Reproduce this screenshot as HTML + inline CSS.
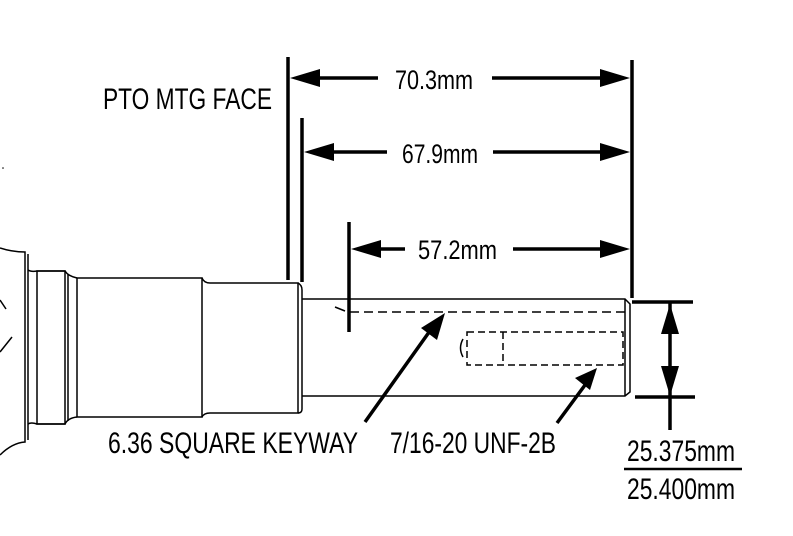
<!DOCTYPE html>
<html><head><meta charset="utf-8"><style>
html,body{margin:0;padding:0;background:#fff;}
svg{display:block;}
text{font-family:"Liberation Sans",sans-serif;fill:#000;}
</style></head><body>
<svg width="793" height="536" viewBox="0 0 793 536" xmlns="http://www.w3.org/2000/svg">
<g fill="none" stroke="#000" stroke-width="1.5">
 <path d="M0,248 Q12,252 25,252 L25,442 Q12,443 0,455"/>
 <path d="M28,254 L28,440"/>
 <path d="M0,300 L6,309 M0,352 L12,337"/>
 <path d="M28,270 Q31,272 37,271 L65,271 Q68,276 77,278"/>
 <path d="M28,424 Q31,422 37,424 L65,424 Q68,418 77,417"/>
 <rect x="37" y="271" width="28" height="153"/>
 <path d="M68,274 L68,421"/>
 <rect x="77" y="278" width="125" height="139"/>
 <path d="M202,278 Q204,283 210,283 L298,283 L298,413 L210,413 Q204,413 202,417"/>
 <path d="M298,283 Q302,285 302,290 L302,409 Q302,413 298,413"/>
 <path d="M302,299 L625,299 L630,304 L630,392 L625,396 L302,396"/>
 <path d="M625,299 L625,396"/>
 <path d="M335,307 L345,311"/>
 <path d="M350,312 L625,312" stroke-dasharray="9,5"/>
 <path d="M467,332 L623,332 L623,365 L467,365 Z" stroke-dasharray="7,4"/>
 <path d="M503,332 L503,365" stroke-dasharray="7,4"/>
 <path d="M463,339 Q458,348 463,357"/>
</g>
<g stroke="#000" stroke-width="3.5" fill="none">
 <path d="M288,57 L288,280"/>
 <path d="M302,118 L302,282"/>
 <path d="M349,222 L349,332"/>
 <path d="M632,60 L632,298"/>
 <path d="M300,78 L378,78 M492,78 L620,78"/>
 <path d="M314,152 L387,152 M493,152 L620,152"/>
 <path d="M360,249 L405,249 M513,249 L620,249"/>
 <path d="M632,302 L693,302 M635,397 L695,397 M670,303 L670,430"/>
 <path d="M365,422 L432,328 M557,423 L588,381"/>
 <path d="M624,469 L742,469" stroke-width="2.5"/>
</g>
<g fill="#000">
 <polygon points="290,78 320,69 320,87"/>
 <polygon points="630,78 600,69 600,87"/>
 <polygon points="304,152 334,143 334,161"/>
 <polygon points="630,152 600,143 600,161"/>
 <polygon points="351,249 381,240 381,258"/>
 <polygon points="630,249 600,240 600,258"/>
 <polygon points="670,304 661,334 679,334"/>
 <polygon points="670,396 661,366 679,366"/>
 <polygon points="445,313 421,328 437,340"/>
 <polygon points="597,368 575,378 590,390"/>
</g>
<g font-size="30">
 <text x="103" y="109" textLength="169" lengthAdjust="spacingAndGlyphs">PTO MTG FACE</text>
 <text x="395" y="89" font-size="27" textLength="78" lengthAdjust="spacingAndGlyphs">70.3mm</text>
 <text x="402" y="163" font-size="27" textLength="76" lengthAdjust="spacingAndGlyphs">67.9mm</text>
 <text x="418" y="259" font-size="27" textLength="79" lengthAdjust="spacingAndGlyphs">57.2mm</text>
 <text x="108" y="453" textLength="250" lengthAdjust="spacingAndGlyphs">6.36 SQUARE KEYWAY</text>
 <text x="390" y="453" textLength="166" lengthAdjust="spacingAndGlyphs">7/16-20 UNF-2B</text>
 <text x="627" y="461" textLength="108" lengthAdjust="spacingAndGlyphs">25.375mm</text>
 <text x="627" y="499" textLength="108" lengthAdjust="spacingAndGlyphs">25.400mm</text>
</g>
<circle cx="3" cy="168" r="0.8" fill="#000"/>
</svg>
</body></html>
